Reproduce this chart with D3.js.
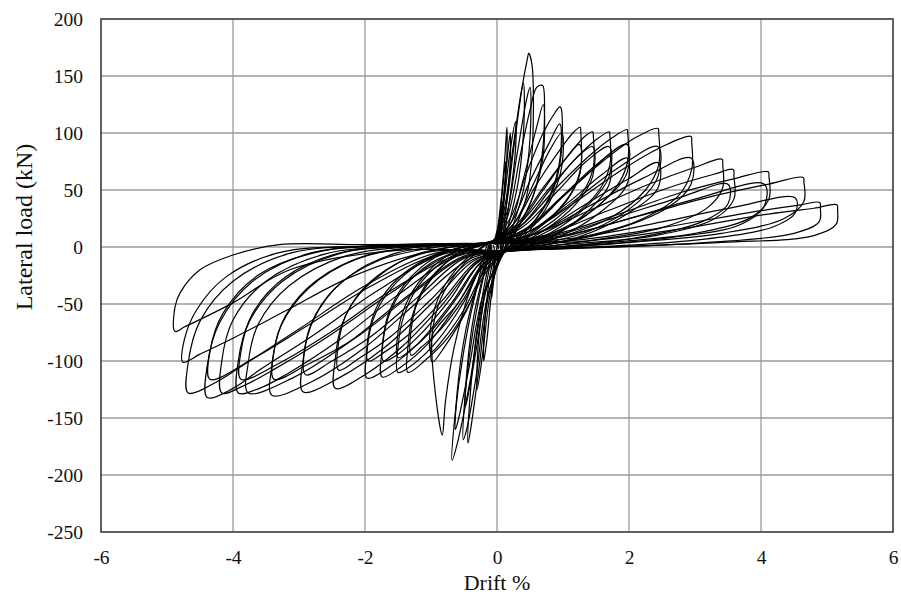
<!DOCTYPE html>
<html>
<head>
<meta charset="utf-8">
<script src="https://cdn.jsdelivr.net/npm/d3@7"></script>
<style>
  html, body { margin: 0; padding: 0; background: #fff; }
  svg { display: block; }
  text { font-family: "Liberation Serif", "Times New Roman", serif; fill: #111; }
</style>
</head>
<body>
<svg id="chart" width="901" height="598"></svg>
<script>
// ---- Data (drift %, lateral load kN) ----
const xTicks = [-6, -4, -2, 0, 2, 4, 6];
const yTicks = [-250, -200, -150, -100, -50, 0, 50, 100, 150, 200];
const xTitle = "Drift %";
const yTitle = "Lateral load (kN)";

// Positive half-cycles: loading from the pinch point, peak, unloading back
const positiveHalves = [
  [[0,0],[0.04,20],[0.08,40],[0.07,25],[0.03,8],[0,0]],
  [[0,0],[0.05,30],[0.1,60],[0.13,75],[0.12,50],[0.06,15],[0.02,-2]],
  [[-0.02,2],[0.06,40],[0.12,80],[0.15,105],[0.15,80],[0.1,40],[0.06,5],[0.05,-3]],
  [[-0.03,2],[0.08,35],[0.15,75],[0.2,100],[0.2,75],[0.14,35],[0.08,4],[0.06,-4]],
  [[-0.05,3],[0.1,40],[0.2,85],[0.28,110],[0.28,85],[0.2,45],[0.1,6],[0.08,-4]],
  [[-0.05,3],[0.1,30],[0.25,90],[0.35,130],[0.4,144],[0.41,110],[0.33,60],[0.2,25],[0.1,3],[0.08,-4]],
  [[-0.06,3],[0.1,25],[0.25,85],[0.38,140],[0.46,165],[0.48,170],[0.53,160],[0.53,80],[0.45,45],[0.3,20],[0.14,3],[0.1,-4]],
  [[-0.06,3],[0.15,30],[0.3,80],[0.45,130],[0.5,140],[0.5,95],[0.4,50],[0.22,15],[0.1,-3]],
  [[-0.08,3],[0.15,25],[0.35,80],[0.5,120],[0.6,140],[0.68,142],[0.7,141],[0.7,90],[0.6,55],[0.4,25],[0.18,5],[0.1,-4]],
  [[-0.08,3],[0.2,20],[0.4,60],[0.6,105],[0.7,125],[0.7,80],[0.55,45],[0.3,15],[0.12,-3]],
  [[-0.1,3],[0.2,25],[0.45,65],[0.7,100],[0.88,118],[0.95,123],[0.97,122],[0.97,80],[0.85,50],[0.6,25],[0.3,8],[0.12,-4]],
  [[-0.1,3],[0.22,22],[0.5,58],[0.78,90],[0.95,108],[0.96,80],[0.8,45],[0.5,18],[0.12,-3]],
  [[-0.1,3],[0.25,20],[0.55,55],[0.8,85],[0.98,100],[0.98,70],[0.8,40],[0.5,15],[0.12,-3]],
  [[-0.12,3],[0.25,20],[0.6,55],[0.95,85],[1.15,100],[1.26,105],[1.27,100],[1.27,70],[1.15,50],[0.85,28],[0.4,8],[0.12,-4]],
  [[-0.12,3],[0.3,18],[0.7,50],[1.05,78],[1.25,90],[1.26,65],[1.05,40],[0.6,15],[0.12,-3]],
  [[-0.12,3],[0.3,20],[0.7,52],[1.1,82],[1.35,98],[1.45,101],[1.46,97],[1.46,70],[1.3,48],[0.9,25],[0.4,6],[0.12,-4]],
  [[-0.15,3],[0.35,18],[0.8,50],[1.2,78],[1.45,88],[1.45,62],[1.2,38],[0.7,14],[0.12,-3]],
  [[-0.15,3],[0.3,18],[0.8,52],[1.2,78],[1.5,94],[1.7,101],[1.71,98],[1.71,72],[1.55,50],[1.1,25],[0.5,6],[0.12,-4]],
  [[-0.15,3],[0.4,18],[0.9,48],[1.35,75],[1.7,88],[1.7,62],[1.4,38],[0.8,12],[0.12,-3]],
  [[-0.18,3],[0.45,15],[1.0,44],[1.45,68],[1.7,80],[1.7,55],[1.35,30],[0.8,8],[0.12,-3]],
  [[-0.18,3],[0.35,18],[0.9,52],[1.4,80],[1.75,96],[1.97,103],[1.98,100],[1.98,75],[1.8,52],[1.3,26],[0.6,6],[0.12,-4]],
  [[-0.2,3],[0.45,16],[1.0,45],[1.5,72],[1.97,90],[1.97,65],[1.65,42],[1.0,15],[0.12,-3]],
  [[-0.2,3],[0.5,14],[1.1,40],[1.6,64],[1.97,78],[1.97,55],[1.6,32],[0.9,8],[0.12,-3]],
  [[-0.2,3],[0.4,15],[1.0,45],[1.6,75],[2.1,96],[2.44,104],[2.45,100],[2.45,72],[2.25,50],[1.7,25],[0.8,6],[0.12,-4]],
  [[-0.22,3],[0.5,14],[1.2,42],[1.8,68],[2.44,88],[2.44,62],[2.15,40],[1.4,14],[0.12,-3]],
  [[-0.22,3],[0.6,12],[1.3,36],[2.0,60],[2.44,74],[2.44,52],[2.0,30],[1.2,8],[0.12,-3]],
  [[-0.25,3],[0.5,14],[1.2,40],[1.9,68],[2.5,88],[2.94,97],[2.95,92],[2.95,68],[2.75,45],[2.1,22],[1.0,5],[0.12,-4]],
  [[-0.25,3],[0.6,12],[1.4,36],[2.2,60],[2.94,78],[2.94,55],[2.6,35],[1.6,12],[0.12,-3]],
  [[-0.28,3],[0.6,12],[1.4,32],[2.3,55],[3.0,70],[3.41,77],[3.42,72],[3.42,52],[3.2,35],[2.5,17],[1.2,4],[0.12,-4]],
  [[-0.28,3],[0.7,10],[1.6,30],[2.6,52],[3.3,64],[3.58,68],[3.59,62],[3.59,42],[3.3,25],[2.4,10],[1.0,2],[0.12,-4]],
  [[-0.3,3],[0.8,9],[1.8,26],[2.8,44],[3.5,55],[3.5,38],[3.1,22],[2.0,7],[0.12,-3]],
  [[-0.3,3],[0.8,10],[1.8,28],[2.8,48],[3.6,60],[4.11,66],[4.12,62],[4.12,42],[3.85,26],[3.0,12],[1.5,3],[0.12,-4]],
  [[-0.3,3],[0.9,8],[2.0,25],[3.0,42],[4.05,55],[4.05,36],[3.7,20],[2.6,8],[0.12,-3]],
  [[-0.35,3],[1.0,10],[2.2,28],[3.3,45],[4.1,55],[4.64,61],[4.65,57],[4.65,40],[4.35,25],[3.4,12],[1.8,3],[0.12,-4]],
  [[-0.35,3],[1.2,8],[2.5,22],[3.6,35],[4.52,43],[4.52,30],[4.2,18],[3.0,6],[0.12,-3]],
  [[-0.35,3],[1.2,6],[2.6,18],[3.8,30],[4.6,37],[4.89,39],[4.9,34],[4.88,22],[4.5,12],[3.2,4],[0.12,-3]],
  [[-0.4,3],[1.3,5],[2.8,16],[4.0,28],[4.8,34],[5.15,37],[5.16,32],[5.14,20],[4.8,10],[3.4,4],[0.12,-3]]
];

// Negative half-cycles: loading from the pinch point, peak, unloading back
const negativeHalves = [
  [[0,0],[-0.04,-20],[-0.08,-45],[-0.07,-25],[-0.03,-8],[0,0]],
  [[0.04,-3],[-0.08,-40],[-0.15,-80],[-0.2,-100],[-0.19,-70],[-0.12,-30],[-0.04,-2],[-0.06,2]],
  [[0.06,-3],[-0.1,-40],[-0.22,-95],[-0.3,-125],[-0.29,-90],[-0.2,-45],[-0.08,-4],[-0.1,2]],
  [[0.08,-4],[-0.12,-40],[-0.28,-110],[-0.4,-160],[-0.44,-172],[-0.42,-140],[-0.32,-80],[-0.18,-30],[-0.08,-2],[-0.1,3]],
  [[0.1,-4],[-0.15,-45],[-0.32,-115],[-0.46,-160],[-0.51,-169],[-0.49,-135],[-0.38,-80],[-0.22,-30],[-0.1,-2],[-0.12,3]],
  [[0.1,-4],[-0.15,-35],[-0.3,-85],[-0.42,-125],[-0.48,-140],[-0.45,-105],[-0.35,-60],[-0.18,-18],[-0.1,2]],
  [[0.1,-4],[-0.18,-40],[-0.4,-115],[-0.6,-172],[-0.68,-187],[-0.64,-150],[-0.5,-90],[-0.3,-35],[-0.12,-3],[-0.15,3]],
  [[0.12,-4],[-0.2,-40],[-0.42,-105],[-0.58,-150],[-0.63,-160],[-0.6,-125],[-0.48,-75],[-0.28,-28],[-0.12,2]],
  [[0.12,-4],[-0.25,-20],[-0.6,-50],[-0.9,-70],[-0.98,-78],[-0.83,-165],[-0.78,-135],[-0.65,-88],[-0.45,-45],[-0.2,-8],[-0.15,3]],
  [[0.12,-4],[-0.2,-25],[-0.5,-60],[-0.8,-88],[-0.98,-101],[-0.98,-75],[-0.85,-45],[-0.55,-18],[-0.25,-2],[-0.15,3]],
  [[0.12,-4],[-0.2,-22],[-0.5,-55],[-0.8,-80],[-1.0,-92],[-1.0,-68],[-0.85,-40],[-0.55,-15],[-0.15,3]],
  [[0.12,-4],[-0.15,-15],[-0.4,-48],[-0.75,-80],[-1.1,-100],[-1.35,-110],[-1.35,-88],[-1.28,-60],[-1.1,-35],[-0.8,-15],[-0.4,-2],[-0.15,3]],
  [[0.12,-4],[-0.2,-15],[-0.5,-45],[-0.85,-72],[-1.15,-88],[-1.3,-95],[-1.3,-72],[-1.2,-48],[-0.95,-25],[-0.6,-6],[-0.15,3]],
  [[0.12,-4],[-0.2,-15],[-0.5,-48],[-0.9,-82],[-1.25,-102],[-1.5,-110],[-1.5,-88],[-1.42,-62],[-1.2,-35],[-0.85,-14],[-0.45,-2],[-0.15,3]],
  [[0.12,-4],[-0.25,-14],[-0.6,-44],[-1.0,-74],[-1.3,-90],[-1.5,-97],[-1.5,-75],[-1.38,-50],[-1.1,-25],[-0.7,-6],[-0.15,3]],
  [[0.12,-4],[-0.2,-14],[-0.6,-50],[-1.05,-85],[-1.45,-105],[-1.74,-114],[-1.74,-90],[-1.65,-62],[-1.4,-35],[-1.0,-14],[-0.5,-2],[-0.15,3]],
  [[0.12,-4],[-0.3,-13],[-0.7,-45],[-1.15,-76],[-1.5,-94],[-1.72,-100],[-1.72,-78],[-1.6,-52],[-1.3,-26],[-0.8,-5],[-0.15,3]],
  [[0.12,-4],[-0.25,-14],[-0.7,-50],[-1.2,-85],[-1.65,-106],[-1.97,-115],[-1.97,-92],[-1.88,-64],[-1.6,-36],[-1.15,-14],[-0.6,-1],[-0.15,3]],
  [[0.12,-4],[-0.3,-12],[-0.8,-45],[-1.3,-75],[-1.7,-92],[-1.95,-100],[-1.95,-78],[-1.8,-50],[-1.45,-25],[-0.9,-6],[-0.15,3]],
  [[0.12,-4],[-0.3,-14],[-0.85,-52],[-1.45,-88],[-2.0,-112],[-2.45,-124],[-2.45,-98],[-2.35,-68],[-2.05,-38],[-1.5,-14],[-0.8,-1],[-0.15,3]],
  [[0.12,-4],[-0.4,-12],[-1.0,-46],[-1.6,-78],[-2.1,-98],[-2.4,-108],[-2.4,-84],[-2.25,-55],[-1.85,-28],[-1.2,-6],[-0.15,3]],
  [[0.12,-4],[-0.35,-12],[-1.0,-50],[-1.7,-88],[-2.4,-115],[-2.94,-127],[-2.94,-100],[-2.82,-68],[-2.45,-36],[-1.8,-12],[-0.9,0],[-0.15,3]],
  [[0.12,-4],[-0.5,-10],[-1.2,-44],[-1.9,-78],[-2.5,-100],[-2.9,-112],[-2.9,-86],[-2.7,-55],[-2.25,-26],[-1.5,-5],[-0.15,3]],
  [[0.12,-4],[-0.4,-10],[-1.2,-48],[-2.0,-88],[-2.8,-118],[-3.41,-130],[-3.41,-104],[-3.28,-70],[-2.85,-36],[-2.1,-10],[-1.0,1],[-0.15,3]],
  [[0.12,-4],[-0.5,-9],[-1.3,-42],[-2.1,-78],[-2.9,-104],[-3.38,-116],[-3.38,-92],[-3.2,-60],[-2.75,-30],[-1.9,-6],[-0.15,3]],
  [[0.12,-4],[-0.5,-8],[-1.4,-45],[-2.3,-86],[-3.1,-115],[-3.77,-128],[-3.77,-102],[-3.62,-68],[-3.15,-34],[-2.3,-8],[-1.1,1],[-0.15,3]],
  [[0.12,-4],[-0.6,-8],[-1.5,-42],[-2.4,-82],[-3.2,-112],[-3.6,-124],[-3.92,-128],[-3.92,-100],[-3.75,-65],[-3.25,-30],[-2.4,-6],[-1.2,1],[-0.15,3]],
  [[0.12,-4],[-0.6,-7],[-1.6,-38],[-2.5,-74],[-3.3,-102],[-3.88,-116],[-3.88,-92],[-3.7,-58],[-3.2,-26],[-2.3,-4],[-0.15,3]],
  [[0.12,-4],[-0.7,-7],[-1.6,-40],[-2.6,-80],[-3.4,-108],[-3.85,-122],[-4.17,-128],[-4.17,-100],[-4.0,-64],[-3.5,-30],[-2.6,-6],[-1.3,1],[-0.15,3]],
  [[0.12,-4],[-0.8,-6],[-1.8,-38],[-2.8,-78],[-3.6,-108],[-4.0,-124],[-4.39,-132],[-4.39,-104],[-4.2,-66],[-3.7,-30],[-2.8,-5],[-1.4,1],[-0.15,3]],
  [[0.12,-4],[-0.8,-5],[-1.9,-34],[-2.9,-70],[-3.7,-98],[-4.35,-116],[-4.35,-92],[-4.15,-58],[-3.6,-24],[-2.6,-3],[-0.15,3]],
  [[0.12,-4],[-0.9,-5],[-2.0,-34],[-3.0,-72],[-3.8,-102],[-4.3,-120],[-4.68,-128],[-4.68,-102],[-4.5,-65],[-4.0,-30],[-3.1,-5],[-1.6,1],[-0.15,3]],
  [[0.12,-4],[-1.0,-4],[-2.2,-26],[-3.2,-56],[-4.0,-80],[-4.5,-94],[-4.76,-101],[-4.74,-82],[-4.55,-55],[-4.1,-26],[-3.3,-5],[-1.8,1],[-0.15,3]],
  [[0.12,-4],[-1.5,-3],[-3.14,-20],[-4.0,-49],[-4.73,-70],[-4.88,-74],[-4.88,-53],[-4.8,-40],[-4.5,-20],[-4.0,-7],[-3.3,2],[-2.0,2],[-0.15,3]]
];

// ---- Layout ----
const svg = d3.select("#chart");
const plot = { left: 101, right: 893, top: 19, bottom: 532 };

const x = d3.scaleLinear().domain([-6, 6]).range([plot.left, plot.right]);
const y = d3.scaleLinear().domain([-250, 200]).range([plot.bottom, plot.top]);

// Grid
const grid = svg.append("g");
grid.selectAll("line.h").data(yTicks.filter(v => v > -250 && v < 200)).join("line")
  .attr("x1", plot.left).attr("x2", plot.right)
  .attr("y1", d => y(d)).attr("y2", d => y(d))
  .attr("stroke", "#9a9a9a").attr("stroke-width", 1.3);
grid.selectAll("line.v").data(xTicks.filter(v => v > -6 && v < 6)).join("line")
  .attr("y1", plot.top).attr("y2", plot.bottom)
  .attr("x1", d => x(d)).attr("x2", d => x(d))
  .attr("stroke", "#9a9a9a").attr("stroke-width", 1.3);

// Curves
const line = d3.line()
  .x(d => x(d[0])).y(d => y(d[1]))
  .curve(d3.curveCatmullRom.alpha(0.5));

const curves = svg.append("g").attr("fill", "none").attr("stroke", "#000")
  .attr("stroke-width", 1.2).attr("stroke-linejoin", "round");
curves.selectAll("path.p").data(positiveHalves).join("path").attr("d", line);
curves.selectAll("path.n").data(negativeHalves).join("path").attr("d", line);

// Frame
svg.append("rect")
  .attr("x", plot.left).attr("y", plot.top)
  .attr("width", plot.right - plot.left).attr("height", plot.bottom - plot.top)
  .attr("fill", "none").attr("stroke", "#3a3a3a").attr("stroke-width", 1.6);

// Axes (tick labels only)
const fmt = d => String(d);
const xAxis = d3.axisBottom(x).tickValues(xTicks).tickSize(0).tickPadding(18).tickFormat(fmt);
const gx = svg.append("g").attr("transform", `translate(0,${plot.bottom})`).call(xAxis);
gx.select(".domain").remove();
gx.selectAll("text").attr("font-size", 19.5).attr("font-family", "Liberation Serif").attr("fill", "#111");

const yAxis = d3.axisLeft(y).tickValues(yTicks).tickSize(0).tickPadding(18).tickFormat(fmt);
const gy = svg.append("g").attr("transform", `translate(${plot.left},0)`).call(yAxis);
gy.select(".domain").remove();
gy.selectAll("text").attr("font-size", 19.5).attr("font-family", "Liberation Serif").attr("fill", "#111");

// Titles
svg.append("text").attr("x", 497).attr("y", 590)
  .attr("text-anchor", "middle").attr("font-size", 22).text(xTitle);
svg.append("text").attr("transform", "translate(32,227) rotate(-90)")
  .attr("text-anchor", "middle").attr("font-size", 24).text(yTitle);
</script>
</body>
</html>
